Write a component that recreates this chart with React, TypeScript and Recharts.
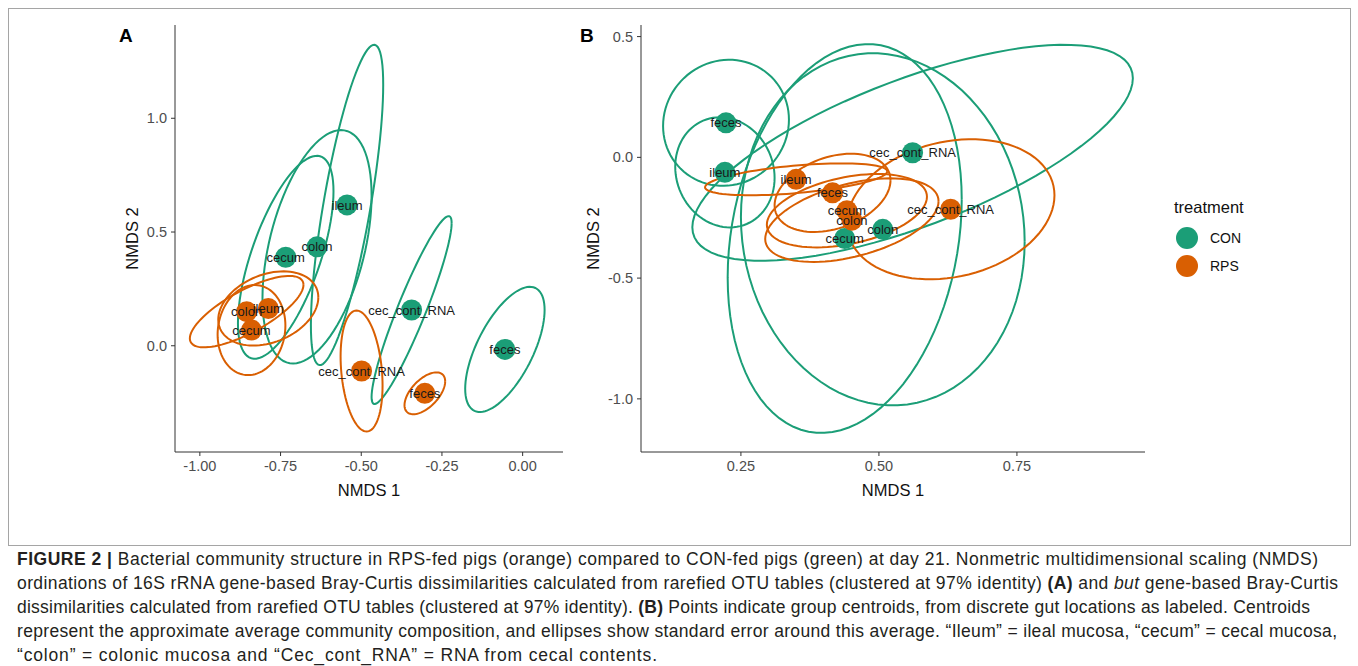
import { ScatterChart, Scatter, XAxis, YAxis, LabelList } from "recharts";

const GREEN = "#1b9e77";
const ORANGE = "#d95f02";
const FONT = '"Liberation Sans", Arial, Helvetica, sans-serif';

// ---- panel A (16S rRNA) ----
// centroids
const A_CON_SITES = ["cecum", "colon", "ileum", "cec_cont_RNA", "feces"];
const A_CON_X = [-0.734, -0.637, -0.544, -0.344, -0.055];
const A_CON_Y = [0.389, 0.435, 0.619, 0.157, -0.016];
// ellipse half-width (NMDS 1), half-height (NMDS 2), correlation
const A_CON_EW = [0.148, 0.169, 0.112, 0.124, 0.123];
const A_CON_EH = [0.446, 0.513, 0.704, 0.413, 0.275];
const A_CON_ER = [0.65, 0.44, 0.75, 0.925, 0.63];

const A_RPS_SITES = ["colon", "ileum", "cecum", "cec_cont_RNA", "feces"];
const A_RPS_X = [-0.855, -0.788, -0.84, -0.499, -0.303];
const A_RPS_Y = [0.15, 0.164, 0.069, -0.111, -0.209];
const A_RPS_EW = [0.176, 0.155, 0.105, 0.065, 0.063];
const A_RPS_EH = [0.157, 0.163, 0.198, 0.266, 0.092];
const A_RPS_ER = [0.75, 0.3, 0.1, -0.24, 0.57];

const A_X_TICKS = [-1, -0.75, -0.5, -0.25, 0];
const A_Y_TICKS = [0, 0.5, 1];

// ---- panel B (but gene) ----
const B_CON_SITES = ["feces", "ileum", "cec_cont_RNA", "colon", "cecum"];
const B_CON_X = [0.223, 0.221, 0.561, 0.507, 0.438];
const B_CON_Y = [0.143, -0.062, 0.019, -0.298, -0.336];
const B_CON_EW = [0.114, 0.09, 0.399, 0.257, 0.212];
const B_CON_EH = [0.261, 0.228, 0.447, 0.729, 0.805];
const B_CON_ER = [0.05, -0.1, 0.69, -0.07, 0.2];

const B_RPS_SITES = ["ileum", "feces", "cecum", "colon", "cec_cont_RNA"];
const B_RPS_X = [0.35, 0.416, 0.442, 0.451, 0.63];
const B_RPS_Y = [-0.091, -0.147, -0.221, -0.26, -0.215];
const B_RPS_EW = [0.165, 0.105, 0.145, 0.157, 0.188];
const B_RPS_EH = [0.066, 0.162, 0.152, 0.173, 0.29];
const B_RPS_ER = [0.5, 0.32, 0.38, 0.45, 0.2];

const B_X_TICKS = [0.25, 0.5, 0.75];
const B_Y_TICKS = [-1, -0.5, 0, 0.5];

const TREATMENTS = ["CON", "RPS"];
const TREATMENT_COLORS = [GREEN, ORANGE];

type Pt = { x: number; y: number; name?: string };

// outline of a standard-error ellipse from its centre, half extents and correlation
function ellipse(cx: number, cy: number, w: number, h: number, r: number): Pt[] {
  const s = Math.sqrt(1 - r * r);
  const pts: Pt[] = [];
  for (let i = 0; i <= 90; i++) {
    const t = (i / 90) * Math.PI * 2;
    pts.push({ x: cx + w * Math.cos(t), y: cy + h * (r * Math.cos(t) + s * Math.sin(t)) });
  }
  return pts;
}

type Group = {
  color: string;
  sites: string[];
  xs: number[];
  ys: number[];
  ew: number[];
  eh: number[];
  er: number[];
};

const points = (g: Group): Pt[] => g.sites.map((name, i) => ({ name, x: g.xs[i], y: g.ys[i] }));
const ellipses = (g: Group) => g.xs.map((x, i) => ellipse(x, g.ys[i], g.ew[i], g.eh[i], g.er[i]));

const NoDot = () => <g />;
const dot = (color: string) => (p: any) => <circle cx={p.cx} cy={p.cy} r={10.5} fill={color} />;

interface PanelProps {
  groups: Group[];
  width: number;
  height: number;
  margin: { top: number; right: number; bottom: number; left: number };
  xDomain: [number, number];
  yDomain: [number, number];
  xTicks: number[];
  yTicks: number[];
  xDigits: number;
  yAxisWidth: number;
}

function Panel({ groups, width, height, margin, xDomain, yDomain, xTicks, yTicks, xDigits, yAxisWidth }: PanelProps) {
  const all = groups.flatMap(points);
  return (
    <ScatterChart width={width} height={height} margin={margin}>
      <XAxis
        type="number"
        dataKey="x"
        domain={xDomain}
        ticks={xTicks}
        allowDataOverflow
        height={76}
        tickSize={4}
        tickMargin={5}
        stroke="#333"
        tick={{ fill: "#4d4d4d", fontSize: 14.5 }}
        tickFormatter={(v: number) => v.toFixed(xDigits)}
        label={{ value: "NMDS 1", position: "center", fill: "#111", fontSize: 16.5 }}
      />
      <YAxis
        type="number"
        dataKey="y"
        domain={yDomain}
        ticks={yTicks}
        allowDataOverflow
        width={yAxisWidth}
        tickSize={4}
        tickMargin={4}
        stroke="#333"
        tick={{ fill: "#4d4d4d", fontSize: 14.5 }}
        tickFormatter={(v: number) => v.toFixed(1)}
        label={{ value: "NMDS 2", angle: -90, position: "center", fill: "#111", fontSize: 16.5 }}
      />
      {groups.flatMap((g, gi) =>
        ellipses(g).map((pts, i) => (
          <Scatter
            key={`e${gi}-${i}`}
            data={pts}
            line={{ stroke: g.color, strokeWidth: 2 }}
            shape={NoDot}
            isAnimationActive={false}
          />
        ))
      )}
      {groups.map((g, gi) => (
        <Scatter key={`p${gi}`} data={points(g)} shape={dot(g.color)} isAnimationActive={false} />
      ))}
      <Scatter data={all} shape={NoDot} isAnimationActive={false}>
        <LabelList dataKey="name" position="center" fill="#1a1a1a" fontSize={13} />
      </Scatter>
    </ScatterChart>
  );
}

const groupsA: Group[] = [
  { color: GREEN, sites: A_CON_SITES, xs: A_CON_X, ys: A_CON_Y, ew: A_CON_EW, eh: A_CON_EH, er: A_CON_ER },
  { color: ORANGE, sites: A_RPS_SITES, xs: A_RPS_X, ys: A_RPS_Y, ew: A_RPS_EW, eh: A_RPS_EH, er: A_RPS_ER },
];
const groupsB: Group[] = [
  { color: GREEN, sites: B_CON_SITES, xs: B_CON_X, ys: B_CON_Y, ew: B_CON_EW, eh: B_CON_EH, er: B_CON_ER },
  { color: ORANGE, sites: B_RPS_SITES, xs: B_RPS_X, ys: B_RPS_Y, ew: B_RPS_EW, eh: B_RPS_EH, er: B_RPS_ER },
];

// caption lines, each stretched to the width it has in the figure (last one left natural-ish)
const CAPTION_WIDTHS = [1301, 1321, 1293, 1320, 640];

function Caption() {
  const line = (i: number, children: React.ReactNode) => (
    <text
      x={17}
      y={25 + i * 24}
      textLength={CAPTION_WIDTHS[i]}
      lengthAdjust="spacing"
      fontSize={17.5}
      fill="#231f20"
      fontFamily={FONT}
    >
      {children}
    </text>
  );
  return (
    <svg width={1358} height={126} style={{ position: "absolute", left: 0, top: 540, overflow: "visible" }}>
      {line(0, <>
        <tspan fontWeight={700}>FIGURE 2 |</tspan>
        {" Bacterial community structure in RPS-fed pigs (orange) compared to CON-fed pigs (green) at day 21. Nonmetric multidimensional scaling (NMDS)"}
      </>)}
      {line(1, <>
        {"ordinations of 16S rRNA gene-based Bray-Curtis dissimilarities calculated from rarefied OTU tables (clustered at 97% identity) "}
        <tspan fontWeight={700}>(A)</tspan>
        {" and "}
        <tspan fontStyle="italic">but</tspan>
        {" gene-based Bray-Curtis"}
      </>)}
      {line(2, <>
        {"dissimilarities calculated from rarefied OTU tables (clustered at 97% identity). "}
        <tspan fontWeight={700}>(B)</tspan>
        {" Points indicate group centroids, from discrete gut locations as labeled. Centroids"}
      </>)}
      {line(3, <>
        {"represent the approximate average community composition, and ellipses show standard error around this average. “Ileum” = ileal mucosa, “cecum” = cecal mucosa,"}
      </>)}
      {line(4, <>{"“colon” = colonic mucosa and “Cec_cont_RNA” = RNA from cecal contents."}</>)}
    </svg>
  );
}

export default function App() {
  return (
    <div
      style={{
        position: "absolute",
        left: 0,
        top: 0,
        width: 1358,
        height: 666,
        background: "#fff",
        fontFamily: FONT,
        overflow: "hidden",
      }}
    >
      <div
        style={{
          position: "absolute",
          left: 8,
          top: 8,
          width: 1341,
          height: 536,
          border: "1px solid #a5a5a5",
        }}
      />

      <div style={{ position: "absolute", left: 0, top: 0 }}>
        <Panel
          groups={groupsA}
          width={575}
          height={540}
          margin={{ top: 25, right: 12, bottom: 12, left: 89 }}
          xDomain={[-1.077, 0.125]}
          yDomain={[-0.467, 1.41]}
          xTicks={A_X_TICKS}
          yTicks={A_Y_TICKS}
          xDigits={2}
          yAxisWidth={86}
        />
      </div>
      <div style={{ position: "absolute", left: 530, top: 0 }}>
        <Panel
          groups={groupsB}
          width={630}
          height={540}
          margin={{ top: 25, right: 15, bottom: 12, left: 15 }}
          xDomain={[0.069, 0.982]}
          yDomain={[-1.22, 0.548]}
          xTicks={B_X_TICKS}
          yTicks={B_Y_TICKS}
          xDigits={2}
          yAxisWidth={96}
        />
      </div>

      <div style={{ position: "absolute", left: 119, top: 26, fontSize: 19, fontWeight: 700, lineHeight: "19px" }}>A</div>
      <div style={{ position: "absolute", left: 580, top: 26, fontSize: 19, fontWeight: 700, lineHeight: "19px" }}>B</div>

      {/* legend */}
      <div style={{ position: "absolute", left: 1174, top: 198, fontSize: 16.5, lineHeight: "18px", color: "#111" }}>
        treatment
      </div>
      {TREATMENTS.map((t, i) => (
        <div key={t}>
          <div
            style={{
              position: "absolute",
              left: 1176,
              top: 227 + i * 28,
              width: 22,
              height: 22,
              borderRadius: "50%",
              background: TREATMENT_COLORS[i],
            }}
          />
          <div style={{ position: "absolute", left: 1210, top: 230 + i * 28, fontSize: 14, lineHeight: "16px", color: "#111" }}>
            {t}
          </div>
        </div>
      ))}

      <Caption />
    </div>
  );
}
